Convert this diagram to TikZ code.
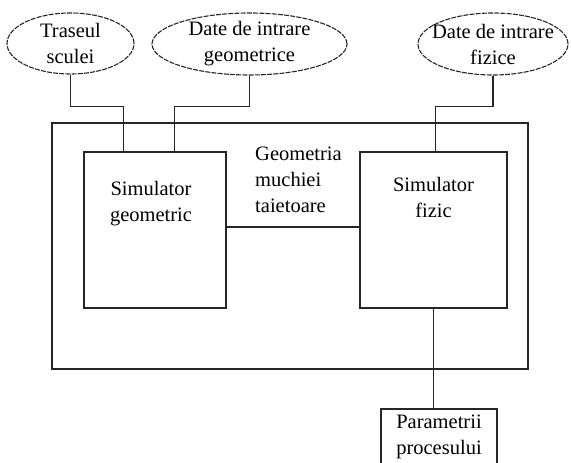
\documentclass[tikz,border=0pt]{standalone}
\usepackage{fontspec}
\setmainfont{Liberation Serif}
\usetikzlibrary{positioning,shapes.geometric}

\begin{document}
\begin{tikzpicture}[
  x=1pt, y=1pt,
  font=\fontsize{20.5}{26}\selectfont,
  inp/.style={ellipse, draw=black!85, line width=1.1pt, dash pattern=on 5pt off 1.2pt,
    inner xsep=-20pt, inner ysep=-10pt, align=center, text=black},
  blk/.style={rectangle, draw=black!85, line width=1.3pt, inner sep=0pt},
  txt/.style={inner sep=0pt, align=center, text=black},
  wire/.style={draw=black!85, line width=1.3pt},
]
\useasboundingbox (0,0) rectangle (571,463);

%% ============ inputs (ellipses) ============
\node[inp, minimum width=127pt, minimum height=61pt] (trs) at (70.5,419.5) {Traseul\\sculei};
\node[inp, minimum width=195pt, minimum height=62pt] (dgeo) at (249.5,419) {Date de intrare\\geometrice};
\node[inp, minimum width=150pt, minimum height=62pt] (dfiz) at (493,419) {Date de intrare\\fizice};

%% ============ frame + simulators ============
\node[blk, minimum width=476pt, minimum height=246pt] (frame) at (290,217) {};
\node[blk, minimum width=142pt, minimum height=156pt] (simgeo) at (155,233) {};
\node[blk, minimum width=147pt, minimum height=156pt] (simfiz) at (433.5,233) {};
\node[txt, below=30pt of simgeo.north, xshift=-4pt] (simgeotxt) {Simulator\\geometric};
\node[txt, below=26pt of simfiz.north] (simfiztxt) {Simulator\\fizic};
\node[txt, align=left, anchor=north west] (muchie) at (255,316) {Geometria\\muchiei\\taietoare};

%% ============ output ============
\node[blk, minimum width=116pt, minimum height=60pt] (param) at (439,24) {};
\node[txt, below=6pt of param.north] (paramtxt) {Parametrii\\procesului};

%% ============ entry points on the simulators ============
\coordinate (ing1) at ([xshift=40pt]simgeo.north west);
\coordinate (ing2) at ([xshift=91pt]simgeo.north west);
\coordinate (inf) at ([xshift=76pt]simfiz.north west);

%% ============ wires ============
\draw[wire] (trs.south) -- ++(0,-32) -| (ing1);
\draw[wire] (dgeo.south) -- ++(0,-31) -| (ing2);
\draw[wire] (dfiz.south) -- ++(0,-31) -| (inf);
\draw[wire] ([yshift=3pt]simgeo.east) -- ([yshift=3pt]simfiz.west);
\draw[wire] (simfiz.south) -- (simfiz.south |- param.north);

\end{tikzpicture}
\end{document}
